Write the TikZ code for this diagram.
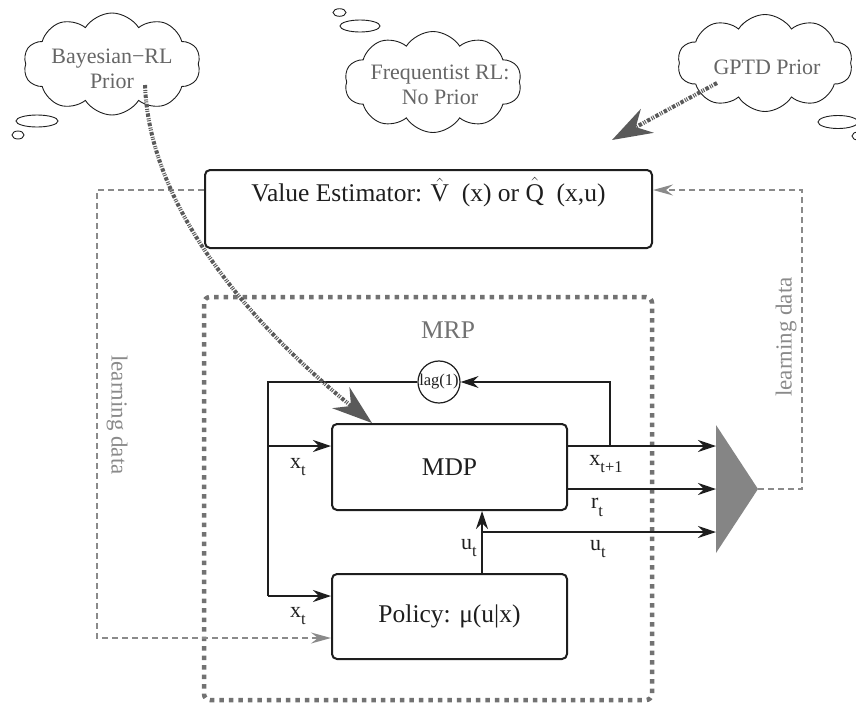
\documentclass[tikz,border=0pt]{standalone}
\usepackage{fontspec}
\setmainfont{Liberation Serif}
\usetikzlibrary{shapes.symbols,arrows.meta,calc}
\definecolor{ink}{HTML}{1E1E1E}
\definecolor{cloudtxt}{HTML}{666666}
\definecolor{mrpgray}{HTML}{727272}
\definecolor{ldgray}{HTML}{8A8A8A}
\definecolor{priorgray}{HTML}{5A5A5A}
\definecolor{trigray}{HTML}{858585}
\newcommand{\sbs}[1]{\raisebox{-0.36em}{\fontsize{16.5}{16.5}\selectfont #1}}
\begin{document}
\begin{tikzpicture}[x=1pt,y=-1pt,
  box/.style={draw=ink, line width=2pt, rounded corners=5pt, inner sep=0pt, text=ink, font=\fontsize{25.5}{28}\selectfont},
  bigtxt/.style={text=ink, inner sep=0pt, font=\fontsize{25.5}{28}\selectfont},
  lbl/.style={text=ink, inner sep=0pt, font=\fontsize{22}{24}\selectfont},
  plainline/.style={draw=ink, line width=1.4pt},
  conn/.style={draw=ink, line width=1.4pt, -{Stealth[length=18pt,width=12pt,inset=6pt]}},
  ld/.style={draw=ldgray, line width=1.5pt, dash pattern=on 6pt off 4pt, -{Stealth[length=20pt,width=11pt,inset=7pt]}},
  ldtxt/.style={text=ldgray, inner sep=0pt, font=\fontsize{23}{26}\selectfont},
  prior/.style={draw=priorgray, line width=4pt, dash pattern=on 3.5pt off 1.5pt on 1pt off 1pt on 1pt off 1.5pt, -{Stealth[length=40pt,width=27pt,inset=13pt]}},
  cloudsty/.style={cloud, draw=ink, line width=0.9pt, cloud puffs=10, cloud puff arc=115, cloud ignores aspect, inner sep=0pt},
  cloudtext/.style={text=cloudtxt, inner sep=0pt, align=center, font=\fontsize{22}{25}\selectfont},
  bubble/.style={draw=ink, line width=0.9pt}
]
\path[use as bounding box] (0,0) rectangle (856,702);

% thought clouds
\node[cloudsty, minimum width=177, minimum height=102] (bayc) at (112,64) {};
\node[cloudtext] (bay) at (112,69) {Bayesian−RL\\Prior};
\draw[bubble] (37,121) ellipse [x radius=21, y radius=6];
\draw[bubble] (18,135) ellipse [x radius=6, y radius=4];

\node[cloudsty, minimum width=177, minimum height=101] (frqc) at (433,82) {};
\node[cloudtext] (frq) at (440,85) {Frequentist RL:\\No Prior};
\draw[bubble] (360,26) ellipse [x radius=20, y radius=6];
\draw[bubble] (339.5,12.5) ellipse [x radius=6.5, y radius=3.8];

\node[cloudsty, minimum width=175, minimum height=97] (gptc) at (765,63) {};
\node[cloudtext] (gpt) at (767,67) {GPTD Prior};
\draw[bubble] (838,122) ellipse [x radius=20, y radius=6.5];
\draw[bubble] (858,136) ellipse [x radius=6, y radius=4];

% value estimator
\node[box, minimum width=447, minimum height=78] (val) at (428.5,209) {};
\node[bigtxt] (valtxt) at (428.5,192) {Value Estimator: $\hat{\hbox{V}}$\ \ (x) or $\hat{\hbox{Q}}$\ \ (x,u)};

% MRP region
\node[draw=mrpgray, line width=4.5pt, dash pattern=on 4.5pt off 5pt, rounded corners=6pt, minimum width=448, minimum height=403, inner sep=0pt] (mrp) at (428,498.5) {};
\node[bigtxt, text=mrpgray] (mrplbl) at (448,330) {MRP};

% MDP and policy
\node[box, minimum width=235, minimum height=86] (mdp) at (449.5,467) {MDP};
\node[box, minimum width=235, minimum height=85] (pol) at (449.5,616.5) {Policy: μ(u|x)};
\node[draw=ink, line width=1.2pt, circle, minimum size=40, inner sep=0pt, text=ink, font=\fontsize{16.5}{16.5}\selectfont] (lag) at (439,382) {lag(1)};

\coordinate (lt) at (268,382);
\coordinate (lm) at (268,446);
\coordinate (lb) at (268,596);
\coordinate (rc) at (610,446);
\coordinate (ux) at (482,532);
\coordinate (tw) at (716,489);
\coordinate (tt) at (758,489);
\coordinate (ttop) at (716,425);
\coordinate (tbot) at (716,553);

\draw[plainline] (lag.west) -- (lt) -- (lb);
\draw[conn] (lm) -- (lm -| mdp.west);
\draw[conn] (lb) -- (lb -| pol.west);
\draw[conn] (rc) |- (lag.east);
\draw[conn] (mdp.east |- rc) -- (tw |- rc);
\draw[conn] (mdp.east |- tw) -- (tw);
\draw[conn] (pol.north -| ux) -- (mdp.south -| ux);
\draw[conn] (ux) -- (tw |- ux);

\fill[trigray] (ttop) -- (tt) -- (tbot) -- cycle;

% labels
\node[lbl] (xt1) at (298,467) {x\sbs{t}};
\node[lbl] (xt2) at (298,616) {x\sbs{t}};
\node[lbl] (xtp) at (606,464) {x\sbs{t+1}};
\node[lbl] (rt) at (597,507) {r\sbs{t}};
\node[lbl] (ut1) at (598,549) {u\sbs{t}};
\node[lbl] (ut2) at (469,548) {u\sbs{t}};

% learning data
\coordinate (ldr) at (802,190);
\coordinate (ldl) at (97,190);
\coordinate (ldlb) at (97,638);
\draw[ld] (tt) -| (ldr) -- (ldr -| val.east);
\draw[ld] (ldl -| val.west) -- (ldl) -- (ldlb) -- (ldlb -| pol.west);
\node[ldtxt, rotate=-90] (ld1) at (117,415) {learning data};
\node[ldtxt, rotate=90] (ld2) at (786,337) {learning data};

% priors
\coordinate (bs) at (145,85);
\coordinate (me) at ($(mdp.north west)+(41,0)$);
\draw[prior] (bs) .. controls (150,220) and (270,340) .. (me);
\coordinate (gs) at (717,83);
\coordinate (ge) at (612,140);
\draw[prior] (gs) -- (ge);
\end{tikzpicture}
\end{document}
